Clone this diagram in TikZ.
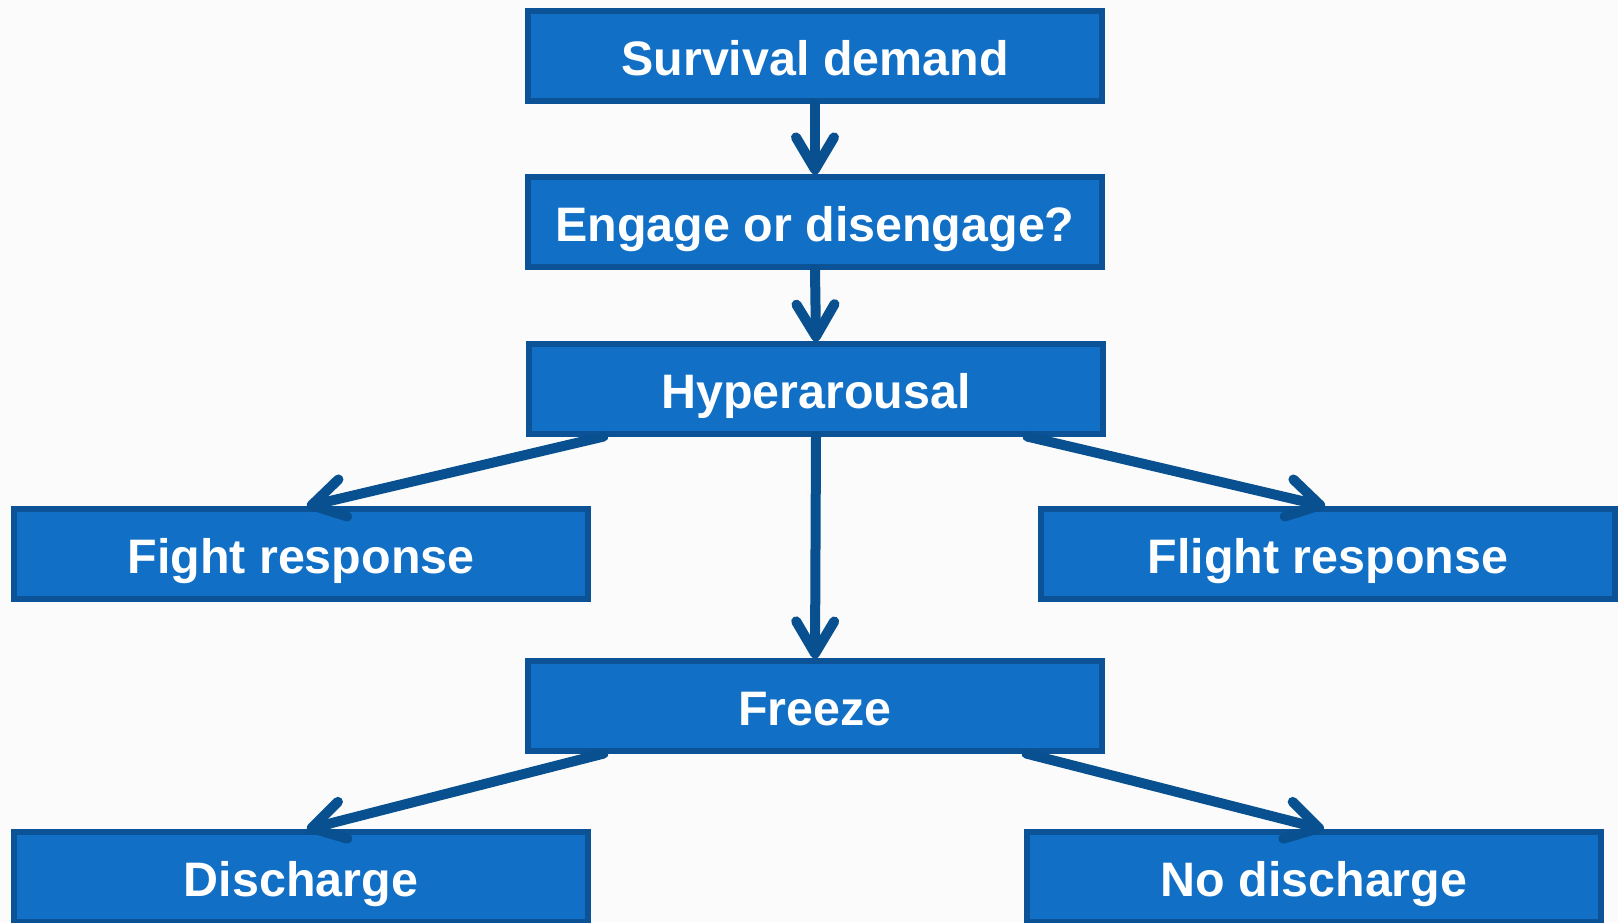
\documentclass[tikz,border=0pt]{standalone}
\usepackage{fontspec}
\setmainfont{Liberation Sans}
\usetikzlibrary{arrows.meta,calc}
\definecolor{boxfill}{HTML}{1170C6}
\definecolor{boxedge}{HTML}{0B5296}
\definecolor{arrowcol}{HTML}{08508F}
\definecolor{paper}{HTML}{FBFBFB}
\begin{document}
\begin{tikzpicture}[x=0.5pt,y=-0.5pt,
  stagebox/.style={draw=boxedge,fill=boxfill,line width=2.6pt,
    minimum width=287pt,minimum height=45pt,inner sep=0pt,
    text height=19pt,text depth=0pt,
    text=white,font=\bfseries\fontsize{24.2}{28}\selectfont},
  flow/.style={draw=arrowcol,line width=5pt,line cap=round,
    -{Straight Barb[length=16pt,width=19pt,line cap=round,line join=round]}}]
  % canvas
  \fill[paper] (0,0) rectangle (1618,922);
  \useasboundingbox (0,0) rectangle (1618,922);

  % stages
  \node[stagebox] (surv) at (815,56) {Survival demand};
  \node[stagebox] (eng)  at (815,222) {Engage or disengage?};
  \node[stagebox] (hyp)  at (816,389) {Hyperarousal};
  \node[stagebox] (fight) at (301,554) {Fight response};
  \node[stagebox] (flight) at (1328,554) {Flight response};
  \node[stagebox] (frz)  at (815,706) {Freeze};
  \node[stagebox] (dis)  at (301,877) {Discharge};
  \node[stagebox] (nodis) at (1314,877) {No discharge};

  % connectors
  \draw[flow] (surv.south) -- (eng.north);
  \draw[flow] (eng.south) -- (hyp.north);
  \draw[flow] ($(hyp.south west)!0.133!(hyp.south east)$) -- ($(fight.north west)!0.51!(fight.north east)$);
  \draw[flow] ($(hyp.south west)!0.865!(hyp.south east)$) -- ($(flight.north west)!0.495!(flight.north east)$);
  \draw[flow] (hyp.south) -- (frz.north);
  \draw[flow] ($(frz.south west)!0.135!(frz.south east)$) -- ($(dis.north west)!0.51!(dis.north east)$);
  \draw[flow] ($(frz.south west)!0.865!(frz.south east)$) -- ($(nodis.north west)!0.517!(nodis.north east)$);
\end{tikzpicture}
\end{document}
